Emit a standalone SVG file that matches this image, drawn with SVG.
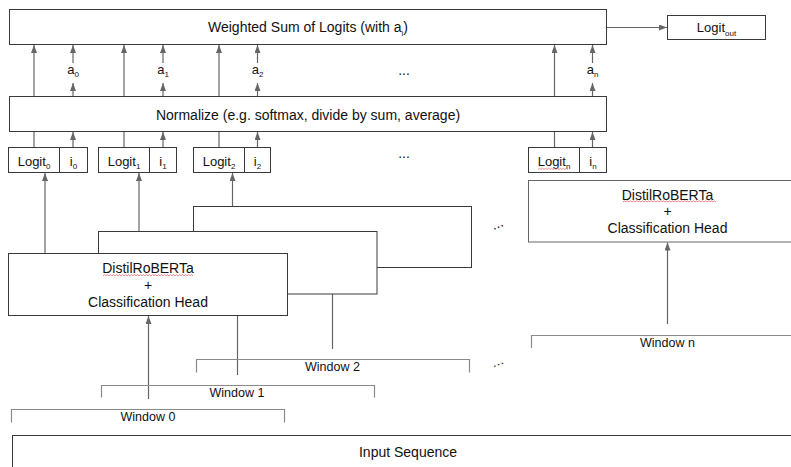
<svg xmlns="http://www.w3.org/2000/svg" width="791" height="467" viewBox="0 0 791 467">
<style>
  .box { fill: #ffffff; stroke: #3a3a3a; stroke-width: 1; }
  .lbox { fill: #ffffff; stroke: #666666; stroke-width: 1; }
  .t { font-family: "Liberation Sans", Arial, sans-serif; font-size: 14px; fill: #111111; text-anchor: middle; }
  .ts { font-family: "Liberation Sans", Arial, sans-serif; font-size: 13px; fill: #111111; text-anchor: middle; }
  .tw { font-family: "Liberation Sans", Arial, sans-serif; font-size: 12.5px; fill: #111111; text-anchor: middle; }
  .sub { font-size: 8px; }
  .c { stroke: #666666; stroke-width: 1.2; fill: none; }
  .ca { stroke: #666666; stroke-width: 1.2; fill: none; marker-end: url(#ah); }
  .br { stroke: #8a8a8a; stroke-width: 1.2; fill: none; }
  .sq { stroke: #e06a6a; stroke-width: 0.8; fill: none; }
  .dots { font-family: "Liberation Sans", Arial, sans-serif; font-size: 14px; fill: #222222; text-anchor: middle; }
</style>
<defs>
  <marker id="ah" viewBox="0 0 8 6" refX="8" refY="3" markerWidth="8" markerHeight="6" markerUnits="userSpaceOnUse" orient="auto">
    <path d="M0,0 L8,3 L0,6 z" fill="#666666"/>
  </marker>
</defs>
<rect width="791" height="467" fill="#ffffff"/>

<g id="connectors">
  <!-- Logits to weighted sum (pass behind normalize) -->
  <line class="ca" x1="34" y1="147" x2="34" y2="45"/>
  <line class="ca" x1="124" y1="147" x2="124" y2="45"/>
  <line class="ca" x1="219" y1="147" x2="219" y2="45"/>
  <line class="ca" x1="554.5" y1="147" x2="554.5" y2="45"/>
  <!-- i to normalize -->
  <line class="ca" x1="73" y1="147" x2="73" y2="132"/>
  <line class="ca" x1="163" y1="147" x2="163" y2="132"/>
  <line class="ca" x1="257.5" y1="147" x2="257.5" y2="132"/>
  <line class="ca" x1="592.5" y1="147" x2="592.5" y2="132"/>
  <!-- normalize to a -->
  <line class="ca" x1="73" y1="97" x2="73" y2="83"/>
  <line class="ca" x1="163" y1="97" x2="163" y2="83"/>
  <line class="ca" x1="257.5" y1="97" x2="257.5" y2="83"/>
  <line class="ca" x1="592.5" y1="97" x2="592.5" y2="83"/>
  <!-- a to weighted sum -->
  <line class="ca" x1="73" y1="63" x2="73" y2="45"/>
  <line class="ca" x1="163" y1="63" x2="163" y2="45"/>
  <line class="ca" x1="257.5" y1="63" x2="257.5" y2="45"/>
  <line class="ca" x1="592.5" y1="63" x2="592.5" y2="45"/>
  <!-- weighted sum to logit out -->
  <line class="ca" x1="607" y1="27.5" x2="667" y2="27.5"/>
  <!-- models to logits -->
  <line class="ca" x1="45" y1="253" x2="45" y2="173"/>
  <line class="ca" x1="139" y1="231" x2="139" y2="173"/>
  <line class="ca" x1="232.5" y1="206" x2="232.5" y2="173"/>
  <!-- windows to models -->
  <line class="ca" x1="148.5" y1="399" x2="148.5" y2="316"/>
  <line class="c" x1="237.5" y1="316" x2="237.5" y2="375"/>
  <line class="c" x1="332.5" y1="294" x2="332.5" y2="349"/>
  <line class="ca" x1="667.5" y1="324" x2="667.5" y2="242.5"/>
</g>

<g id="weighted-sum">
  <rect class="box" x="9.5" y="9.5" width="597" height="35"/>
  <text class="t" x="308" y="32">Weighted Sum of Logits (with a<tspan class="sub" dy="4">i</tspan><tspan dy="-4">)</tspan></text>
</g>

<g id="logit-out">
  <rect class="box" x="667.5" y="15.5" width="98" height="24"/>
  <text class="ts" x="716.5" y="32">Logit<tspan class="sub" dy="4">out</tspan></text>
</g>

<g id="a-labels">
  <text class="ts" x="73" y="74">a<tspan class="sub" dy="3">0</tspan></text>
  <text class="ts" x="163" y="74">a<tspan class="sub" dy="3">1</tspan></text>
  <text class="ts" x="257.5" y="74">a<tspan class="sub" dy="3">2</tspan></text>
  <text class="ts" x="592.5" y="74">a<tspan class="sub" dy="3">n</tspan></text>
  <text class="dots" x="404" y="75">...</text>
</g>

<g id="normalize">
  <rect class="box" x="9.5" y="96.5" width="597" height="35"/>
  <text class="t" x="308" y="120">Normalize (e.g. softmax, divide by sum, average)</text>
</g>

<g id="logit-0">
  <rect class="box" x="8.5" y="147.5" width="51" height="25"/>
  <rect class="box" x="59.5" y="147.5" width="28" height="25"/>
  <text class="ts" x="34" y="165.5">Logit<tspan class="sub" dy="3">0</tspan></text>
  <text class="ts" x="73.5" y="165.5">i<tspan class="sub" dy="3">0</tspan></text>
</g>
<g id="logit-1">
  <rect class="box" x="98.5" y="147.5" width="51" height="25"/>
  <rect class="box" x="149.5" y="147.5" width="27" height="25"/>
  <text class="ts" x="124" y="165.5">Logit<tspan class="sub" dy="3">1</tspan></text>
  <text class="ts" x="163" y="165.5">i<tspan class="sub" dy="3">1</tspan></text>
</g>
<g id="logit-2">
  <rect class="box" x="193.5" y="147.5" width="51" height="25"/>
  <rect class="box" x="244.5" y="147.5" width="26" height="25"/>
  <text class="ts" x="219" y="165.5">Logit<tspan class="sub" dy="3">2</tspan></text>
  <text class="ts" x="257.5" y="165.5">i<tspan class="sub" dy="3">2</tspan></text>
</g>
<text class="dots" x="404" y="158">...</text>
<g id="logit-n">
  <rect class="box" x="528.5" y="147.5" width="51" height="25"/>
  <rect class="box" x="579.5" y="147.5" width="27" height="25"/>
  <text class="ts" x="554" y="165.5">Logit<tspan class="sub" dy="3">n</tspan></text>
  <text class="ts" x="593" y="165.5">i<tspan class="sub" dy="3">n</tspan></text>
  <path class="sq" d="M538 169.5 l1.5 -1.2 l1.5 1.2 l1.5 -1.2 l1.5 1.2 l1.5 -1.2 l1.5 1.2 l1.5 -1.2 l1.5 1.2 l1.5 -1.2 l1.5 1.2 l1.5 -1.2 l1.5 1.2 l1.5 -1.2 l1.5 1.2 l1.5 -1.2 l1.5 1.2 l1.5 -1.2 l1.5 1.2 l1.5 -1.2 l1.5 1.2"/>
</g>

<g id="model-2">
  <rect class="box" x="193.5" y="206.5" width="278" height="61"/>
</g>
<g id="model-1">
  <rect class="box" x="98.5" y="231.5" width="278.5" height="62.5"/>
</g>
<g id="model-0">
  <rect class="box" x="8.5" y="253.5" width="279" height="62"/>
  <text class="t" x="148" y="273">DistilRoBERTa</text>
  <text class="t" x="148" y="290">+</text>
  <text class="t" x="148" y="307">Classification Head</text>
  <path class="sq" d="M103 275.8 l1.5 -1.2 l1.5 1.2 l1.5 -1.2 l1.5 1.2 l1.5 -1.2 l1.5 1.2 l1.5 -1.2 l1.5 1.2 l1.5 -1.2 l1.5 1.2 l1.5 -1.2 l1.5 1.2 l1.5 -1.2 l1.5 1.2 l1.5 -1.2 l1.5 1.2 l1.5 -1.2 l1.5 1.2 l1.5 -1.2 l1.5 1.2 l1.5 -1.2 l1.5 1.2 l1.5 -1.2 l1.5 1.2 l1.5 -1.2 l1.5 1.2 l1.5 -1.2 l1.5 1.2 l1.5 -1.2 l1.5 1.2 l1.5 -1.2 l1.5 1.2 l1.5 -1.2 l1.5 1.2 l1.5 -1.2 l1.5 1.2 l1.5 -1.2 l1.5 1.2 l1.5 -1.2 l1.5 1.2 l1.5 -1.2 l1.5 1.2 l1.5 -1.2 l1.5 1.2 l1.5 -1.2 l1.5 1.2 l1.5 -1.2 l1.5 1.2 l1.5 -1.2 l1.5 1.2 l1.5 -1.2 l1.5 1.2 l1.5 -1.2 l1.5 1.2 l1.5 -1.2 l1.5 1.2 l1.5 -1.2 l1.5 1.2 l1.5 -1.2 l1.5 1.2"/>
</g>
<text class="dots" transform="rotate(-24 498.5 227)" x="498.5" y="228">...</text>
<g id="model-n">
  <rect class="lbox" x="528.5" y="180.5" width="300" height="61.5"/>
  <text class="t" x="667.5" y="199.5">DistilRoBERTa</text>
  <text class="t" x="667.5" y="216">+</text>
  <text class="t" x="667.5" y="233">Classification Head</text>
  <path class="sq" d="M623 202 l1.5 -1.2 l1.5 1.2 l1.5 -1.2 l1.5 1.2 l1.5 -1.2 l1.5 1.2 l1.5 -1.2 l1.5 1.2 l1.5 -1.2 l1.5 1.2 l1.5 -1.2 l1.5 1.2 l1.5 -1.2 l1.5 1.2 l1.5 -1.2 l1.5 1.2 l1.5 -1.2 l1.5 1.2 l1.5 -1.2 l1.5 1.2 l1.5 -1.2 l1.5 1.2 l1.5 -1.2 l1.5 1.2 l1.5 -1.2 l1.5 1.2 l1.5 -1.2 l1.5 1.2 l1.5 -1.2 l1.5 1.2 l1.5 -1.2 l1.5 1.2 l1.5 -1.2 l1.5 1.2 l1.5 -1.2 l1.5 1.2 l1.5 -1.2 l1.5 1.2 l1.5 -1.2 l1.5 1.2 l1.5 -1.2 l1.5 1.2 l1.5 -1.2 l1.5 1.2 l1.5 -1.2 l1.5 1.2 l1.5 -1.2 l1.5 1.2 l1.5 -1.2 l1.5 1.2 l1.5 -1.2 l1.5 1.2 l1.5 -1.2 l1.5 1.2 l1.5 -1.2 l1.5 1.2 l1.5 -1.2 l1.5 1.2 l1.5 -1.2 l1.5 1.2 l1.5 -1.2 l1.5 1.2"/>
</g>

<g id="window-n">
  <polyline class="br" points="531.5,348 531.5,335.5 800,335.5"/>
  <text class="tw" x="667.5" y="346.5">Window n</text>
</g>
<g id="window-2">
  <polyline class="br" points="196.5,372.5 196.5,359.5 469.5,359.5 469.5,372.5"/>
  <text class="tw" x="332.5" y="371">Window 2</text>
</g>
<text class="dots" transform="rotate(-20 498.5 364.5)" x="498.5" y="365.5">...</text>
<g id="window-1">
  <polyline class="br" points="101.5,397.5 101.5,385.5 374.5,385.5 374.5,397.5"/>
  <text class="tw" x="237" y="397">Window 1</text>
</g>
<g id="window-0">
  <polyline class="br" points="11.5,422.5 11.5,409.5 284.5,409.5 284.5,422.5"/>
  <text class="tw" x="148" y="420.5">Window 0</text>
</g>

<g id="input-sequence">
  <rect class="box" x="12.5" y="435.5" width="800" height="60"/>
  <text class="t" x="408" y="457">Input Sequence</text>
</g>
</svg>
